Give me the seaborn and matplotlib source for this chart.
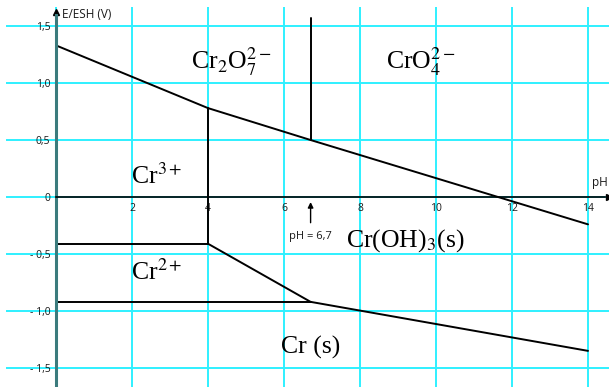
import matplotlib
matplotlib.use("Agg")
import matplotlib.pyplot as plt
import seaborn as sns
import pandas as pd
from matplotlib.ticker import FixedLocator, FixedFormatter

# Boundary lines of the Pourbaix diagram of chromium (pH, E in V vs SHE)
ph_upper = [0, 4, 6.7, 14]
e_upper = [1.33, 0.78, 0.50, -0.24]

ph_cr3_cr2 = [0, 4]
e_cr3_cr2 = [-0.41, -0.41]

ph_cr2_oh = [4, 6.7, 14]
e_cr2_oh = [-0.41, -0.92, -1.35]

ph_cr2_cr = [0, 6.7]
e_cr2_cr = [-0.92, -0.92]

ph_v4 = [4, 4]
e_v4 = [0.78, -0.41]

ph_v67 = [6.7, 6.7]
e_v67 = [0.50, 1.57]

x_ticks = [0, 2, 4, 6, 8, 10, 12, 14]
x_labels = ["", "2", "4", "6", "8", "10", "12", "14"]
y_ticks = [-1.5, -1.0, -0.5, 0, 0.5, 1.0, 1.5]
y_labels = ["- 1,5", "- 1,0", "- 0,5", "0", "0,5", "1,0", "1,5"]

sns.set_theme(style="white")
plt.rcParams["font.family"] = ["Open Sans", "DejaVu Sans"]
plt.rcParams["mathtext.fontset"] = "stix"

fig = plt.figure(figsize=(6.09, 3.87), dpi=100)
ax = fig.add_axes([6 / 609, 0, 603 / 609, 380 / 387])
ax.set_xlim(-1.316, 14.553)
ax.set_ylim(-1.667, 1.667)

# grid
ax.xaxis.set_major_locator(FixedLocator(x_ticks))
ax.yaxis.set_major_locator(FixedLocator(y_ticks))
ax.xaxis.set_major_formatter(FixedFormatter(x_labels))
ax.yaxis.set_major_formatter(FixedFormatter(y_labels))
ax.grid(True, color="#2ff0ff", lw=1.4)
ax.set_axisbelow(True)

# axes through the origin
for s in ["top", "right"]:
    ax.spines[s].set_visible(False)
ax.spines["left"].set_position(("data", 0))
ax.spines["bottom"].set_position(("data", 0))
ax.spines["left"].set_color("#3b7b7d")
ax.spines["left"].set_linewidth(2.2)
ax.spines["left"].set_bounds(-1.667, 1.60)
ax.spines["bottom"].set_color("black")
ax.spines["bottom"].set_linewidth(1.2)
ax.spines["bottom"].set_bounds(0, 14.45)
ax.tick_params(axis="both", direction="inout", length=4, width=1, color="black",
               labelsize=7.5, labelcolor="#1a1a1a")
ax.tick_params(axis="x", pad=2)
ax.tick_params(axis="y", pad=2)

# axis arrows
ax.plot([14.55], [0], marker=">", ms=5, color="black", clip_on=False)
ax.plot([0], [1.62], marker="^", ms=5, color="black", clip_on=False)
ax.text(0.15, 1.60, "E/ESH (V)", fontsize=8.5, color="#1a1a1a", ha="left", va="center")
ax.text(14.3, 0.13, "pH", fontsize=8.5, color="#1a1a1a", ha="center", va="center")

segments = [
    (ph_upper, e_upper),
    (ph_cr3_cr2, e_cr3_cr2),
    (ph_cr2_oh, e_cr2_oh),
    (ph_cr2_cr, e_cr2_cr),
    (ph_v4, e_v4),
    (ph_v67, e_v67),
]
for px, py in segments:
    df = pd.DataFrame({"pH": px, "E": py})
    sns.lineplot(data=df, x="pH", y="E", sort=False, estimator=None,
                 color="black", lw=1.4, ax=ax)
ax.set_xlabel("")
ax.set_ylabel("")

# pH = 6,7 marker
ax.annotate("", xy=(6.7, -0.02), xytext=(6.7, -0.25),
            arrowprops=dict(arrowstyle="-|>", color="black", lw=1, mutation_scale=8))
ax.text(6.7, -0.35, "pH = 6,7", fontsize=8, color="#1a1a1a", ha="center", va="center")

# species labels
lab = dict(fontsize=18.5, color="black", ha="center", va="center",
           family=["Liberation Serif", "DejaVu Serif"])
ax.text(4.6, 1.19, r"Cr$_2$O$_7^{2-}$", **lab)
ax.text(9.6, 1.19, r"CrO$_4^{2-}$", **lab)
ax.text(2.65, 0.18, r"Cr$^{3+}$", **lab)
ax.text(9.2, -0.38, r"Cr(OH)$_3$(s)", **lab)
ax.text(2.65, -0.66, r"Cr$^{2+}$", **lab)
ax.text(6.7, -1.32, r"Cr (s)", **lab)

fig.savefig("out.png", dpi=100)
